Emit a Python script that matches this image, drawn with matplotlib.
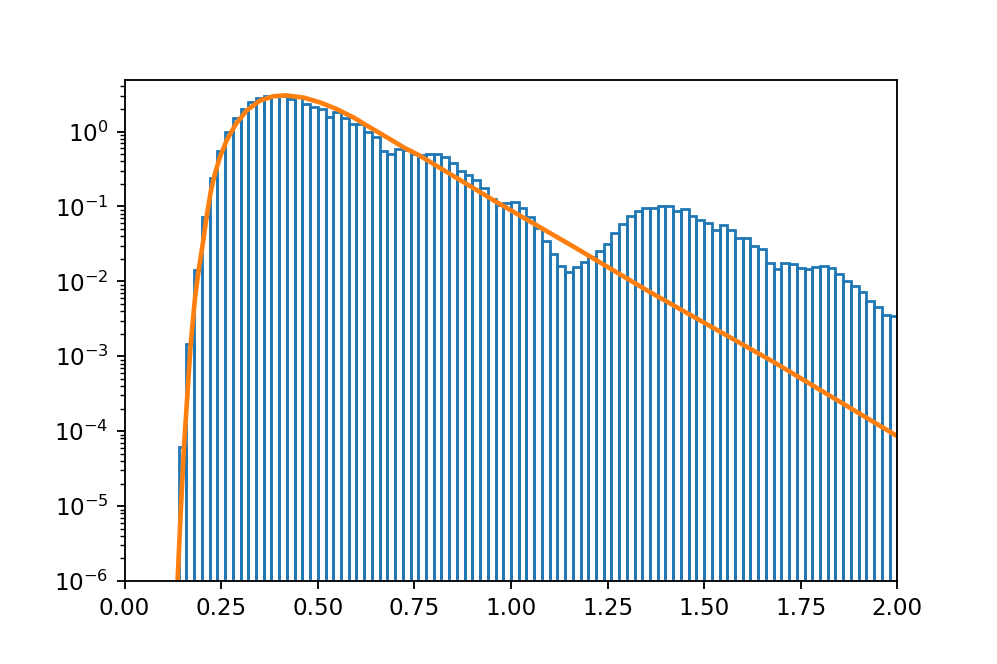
import matplotlib
matplotlib.use('Agg')
import matplotlib.pyplot as plt
import numpy as np

# histogram bins (left edges, width 0.02) and density per bin
bin_width = 0.02
bin_left = [0.14, 0.16, 0.18, 0.20, 0.22, 0.24, 0.26, 0.28, 0.30, 0.32,
            0.34, 0.36, 0.38, 0.40, 0.42, 0.44, 0.46, 0.48, 0.50, 0.52,
            0.54, 0.56, 0.58, 0.60, 0.62, 0.64, 0.66, 0.68, 0.70, 0.72,
            0.74, 0.76, 0.78, 0.80, 0.82, 0.84, 0.86, 0.88, 0.90, 0.92,
            0.94, 0.96, 0.98, 1.00, 1.02, 1.04, 1.06, 1.08, 1.10, 1.12,
            1.14, 1.16, 1.18, 1.20, 1.22, 1.24, 1.26, 1.28, 1.30, 1.32,
            1.34, 1.36, 1.38, 1.40, 1.42, 1.44, 1.46, 1.48, 1.50, 1.52,
            1.54, 1.56, 1.58, 1.60, 1.62, 1.64, 1.66, 1.68, 1.70, 1.72,
            1.74, 1.76, 1.78, 1.80, 1.82, 1.84, 1.86, 1.88, 1.90, 1.92,
            1.94, 1.96, 1.98]
density = [6.1e-5, 1.45e-3, 0.0143, 0.072, 0.237, 0.545, 1.0, 1.51, 2.02, 2.47,
           2.81, 2.94, 2.99, 3.0, 2.7, 2.9, 2.3, 2.15, 2.03, 1.57,
           1.83, 1.54, 1.28, 1.25, 1.0, 0.85, 0.55, 0.50, 0.59, 0.56,
           0.50, 0.49, 0.50, 0.50, 0.46, 0.38, 0.30, 0.267, 0.227, 0.177,
           0.124, 0.106, 0.112, 0.114, 0.095, 0.072, 0.052, 0.0345, 0.0234, 0.0162,
           0.0133, 0.0154, 0.0183, 0.0211, 0.0251, 0.0318, 0.044, 0.058, 0.0736, 0.0867,
           0.095, 0.096, 0.101, 0.100, 0.087, 0.093, 0.074, 0.066, 0.0605, 0.049,
           0.057, 0.048, 0.038, 0.038, 0.030, 0.027, 0.0176, 0.0148, 0.0174, 0.0173,
           0.0152, 0.0146, 0.0155, 0.016, 0.0149, 0.0125, 0.010, 0.0088, 0.0072, 0.0055,
           0.0045, 0.00356, 0.0035]

# fitted curve, points
curve_x = [0.137, 0.143, 0.1535, 0.171, 0.182, 0.1915, 0.2036, 0.212, 0.2234, 0.2337,
           0.2466, 0.2639, 0.288, 0.3157, 0.350, 0.3846, 0.417, 0.464, 0.507, 0.550,
           0.593, 0.636, 0.680, 0.723, 0.762, 0.956, 1.171, 1.352, 1.680, 2.0]
curve_y = [1.0e-6, 4.8e-6, 6.07e-5, 1.445e-3, 5.89e-3, 0.01403, 0.03524, 0.0721, 0.1633, 0.2729,
           0.455, 0.7586, 1.265, 1.905, 2.588, 2.958, 3.048, 2.838, 2.438, 1.986,
           1.538, 1.130, 0.832, 0.612, 0.483, 0.1202, 0.0273, 0.00759, 8.39e-4, 8.57e-5]

fig = plt.figure(figsize=(997/166, 664/166), dpi=166)
ax = fig.add_subplot(111)
fig.subplots_adjust(left=0.125, right=0.9, top=0.88, bottom=0.125)

ax.bar(bin_left, density, width=bin_width, align='edge', fill=False,
       edgecolor='C0', linewidth=1.2)
ax.plot(curve_x, curve_y, color='C1', linewidth=2.0)

ax.set_yscale('log')
ax.set_xlim(0, 2)
ax.set_ylim(1e-6, 4.93)

fig.savefig('out.png', dpi=166)
